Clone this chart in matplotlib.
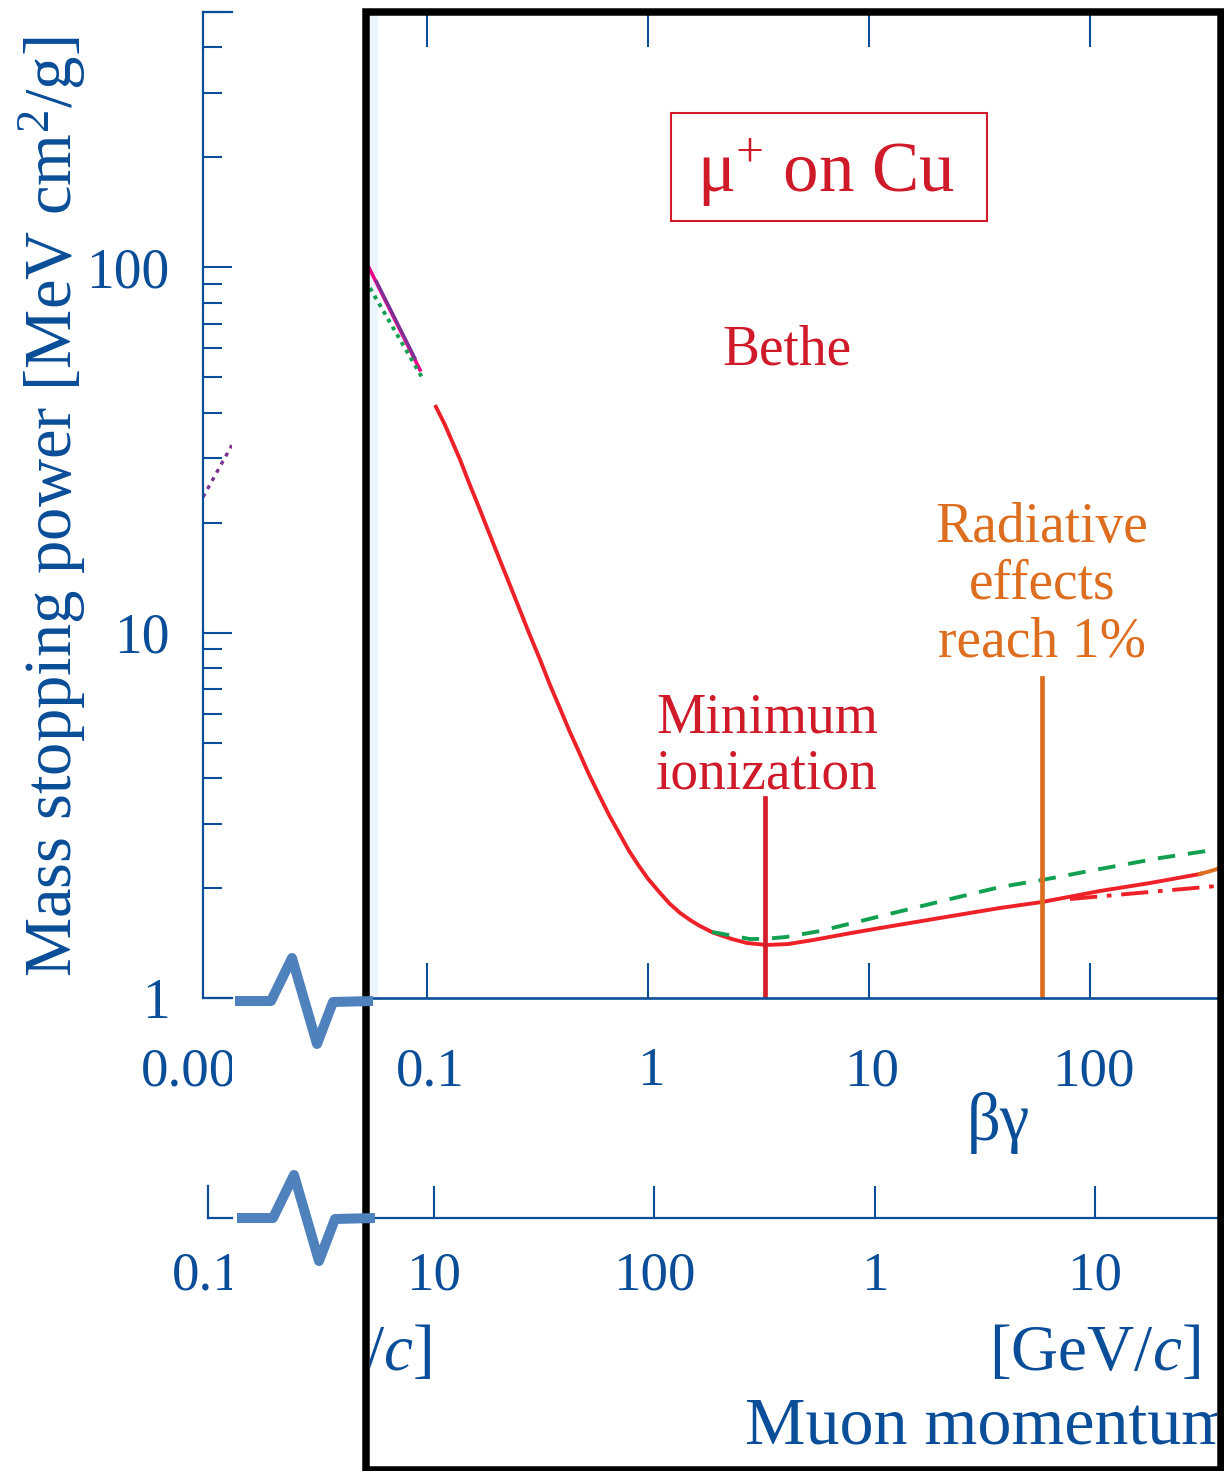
import numpy as np
import matplotlib
matplotlib.use("Agg")
import matplotlib.pyplot as plt
from matplotlib import transforms
from matplotlib.patches import Rectangle
from matplotlib.ticker import LogLocator, NullLocator

plt.rcParams['font.family'] = ['Liberation Serif', 'DejaVu Serif']
plt.rcParams['mathtext.fontset'] = 'custom'
plt.rcParams['mathtext.rm'] = 'Liberation Serif'
plt.rcParams['mathtext.it'] = 'Liberation Serif:italic'
plt.rcParams['mathtext.default'] = 'regular'

# ---- data ----
# Bethe curve, mu+ on Cu
bethe_bg = [0.1087, 0.12, 0.141, 0.155, 0.17, 0.19, 0.2137, 0.235, 0.26, 0.29, 0.3245,
            0.36, 0.4, 0.44, 0.4923, 0.54, 0.6, 0.67, 0.747, 0.82, 0.9, 1.0, 1.133,
            1.25, 1.396, 1.55, 1.7, 1.968, 2.4, 2.805, 3.45, 4.3, 5.58, 8.0, 11.2,
            23.3, 39.2, 60.6, 110.9, 186.8, 314.6, 324]
bethe_dedx = [42.0, 37.3, 29.8, 25.7, 22.4, 18.9, 15.8, 13.7, 11.75, 9.95, 8.45,
              7.2, 6.2, 5.4, 4.65, 4.1, 3.6, 3.15, 2.8, 2.53, 2.32, 2.12, 1.94,
              1.815, 1.71, 1.635, 1.58, 1.51, 1.45, 1.414, 1.397, 1.405, 1.441, 1.50, 1.554,
              1.674, 1.764, 1.831, 1.963, 2.064, 2.185, 2.199]
# radiative total (orange, end of curve)
rad_bg = [314.6, 350, 390]
rad_dedx = [2.185, 2.225, 2.27]
# without density effect (green dashed)
nodelta_bg = [1.948, 2.893, 3.4, 4.21, 6.00, 10.87, 23.3, 39.2, 60.6, 110.9, 207.5, 390]
nodelta_dedx = [1.516, 1.450, 1.452, 1.469, 1.525, 1.666, 1.866, 2.013, 2.104, 2.255, 2.417, 2.56]
# red dash-dot
dashdot_bg = [81.2, 376]
dashdot_dedx = [1.866, 2.026]
# low energy pieces
magenta_bg = [0.0548, 0.0930]
magenta_dedx = [99.4, 52.4]
purple_bg = [0.0592, 0.0882]
purple_dedx = [91.4, 56.5]
greendot_bg = [0.0552, 0.0946]
greendot_dedx = [87.8, 50.2]
left_bg = [0.001, 0.00135]
left_dedx = [23.5, 32.6]
# markers
min_ion_bg = 3.38
min_ion_top = 3.53
rad1_bg = 60.6
rad1_top = 7.52

bg_ticks = [0.1, 1, 10, 100]
bg_labels = ["0.1", "1", "10", "100"]
p_ticks = [0.01, 0.1, 1, 10]          # GeV/c
p_labels = ["10", "100", "1", "10"]
y_ticks = [1, 10, 100]
y_labels = ["1", "10", "100"]

BLUE = '#0a4d98'
RED = '#ed2127'
RED_TXT = '#cf1b29'
ORANGE = '#dd6e1f'
GREEN = '#10a050'
MAGENTA = '#ec008c'
PURPLE = '#7b3294'
BREAK = '#4f81bd'

W, H = 1224, 1471
fig = plt.figure(figsize=(W / 100, H / 100), dpi=100)


def add_ax(x0, y0, x1, y1):
    return fig.add_axes([x0 / W, 1 - y1 / H, (x1 - x0) / W, (y1 - y0) / H])


def bg_at(px):
    return 10 ** (-1 + (px - 427) / 221.0)


def p_at(px):
    return 10 ** (-2 + (px - 434) / 220.3)


Y_MAX = 10 ** ((998 - 12) / 365.3)

# background strip next to the frame
bk = add_ax(0, 0, W, H)
bk.set_xlim(0, W); bk.set_ylim(H, 0); bk.axis('off')
bk.add_patch(Rectangle((369, 16), 9, 982, color='#eef4fb', lw=0))

# ---- main panel ----
ax = add_ax(366, 12, 1220, 998)
ax.set_xscale('log'); ax.set_yscale('log')
ax.set_xlim(bg_at(366), bg_at(1220))
ax.set_ylim(1, Y_MAX)
ax.patch.set_alpha(0)
for s in ['left', 'right', 'top']:
    ax.spines[s].set_visible(False)
ax.spines['bottom'].set_color(BLUE)
ax.spines['bottom'].set_linewidth(1.9)
ax.set_xticks(bg_ticks)
ax.set_xticklabels([])
ax.xaxis.set_minor_locator(NullLocator())
ax.tick_params(axis='x', which='major', direction='in', length=25, width=1.5,
               colors=BLUE, top=True, bottom=True, labelbottom=False)
ax.yaxis.set_major_locator(NullLocator())
ax.yaxis.set_minor_locator(NullLocator())

ax.plot(bethe_bg, bethe_dedx, color=RED, lw=2.8, solid_capstyle='butt', solid_joinstyle='round')
ax.plot(rad_bg, rad_dedx, color=ORANGE, lw=2.8)
ax.plot(nodelta_bg, nodelta_dedx, color=GREEN, lw=2.8, dashes=(4.5, 3.3))
ax.plot(dashdot_bg, dashdot_dedx, color=RED, lw=2.8, dashes=(7, 2.5, 1.2, 2.5))
ax.plot(magenta_bg, magenta_dedx, color=MAGENTA, lw=2.6)
ax.plot(purple_bg, purple_dedx, color=PURPLE, lw=2.2)
ax.plot(greendot_bg, greendot_dedx, color=GREEN, lw=2.8, dashes=(1, 1.3))
ax.plot([min_ion_bg, min_ion_bg], [1, min_ion_top], color='#d41f2a', lw=3.4)
ax.plot([rad1_bg, rad1_bg], [1, rad1_top], color=ORANGE, lw=3.4)

# ---- left (low beta-gamma) panel ----
axl = add_ax(203, 12, 232, 998)
axl.set_xscale('log'); axl.set_yscale('log')
axl.set_xlim(0.001, 10 ** (-3 + 29 / 221.0))
axl.set_ylim(1, Y_MAX)
axl.patch.set_alpha(0)
axl.spines['right'].set_visible(False)
for s in ['left', 'top', 'bottom']:
    axl.spines[s].set_color(BLUE)
    axl.spines[s].set_linewidth(1.6)
axl.xaxis.set_major_locator(NullLocator())
axl.xaxis.set_minor_locator(NullLocator())
axl.set_yticks(y_ticks)
axl.set_yticklabels(y_labels)
axl.yaxis.set_minor_locator(LogLocator(base=10, subs=np.arange(2, 10)))
axl.tick_params(axis='y', which='major', direction='in', length=21, width=1.5,
                colors=BLUE, labelsize=40, pad=24)
axl.tick_params(axis='y', which='minor', direction='in', length=14, width=1.5, colors=BLUE)
axl.plot(left_bg, left_dedx, color=PURPLE, lw=2.4, dashes=(1.2, 1.6))

# ---- momentum axis ----
axm = add_ax(372, 1217, 1220, 1218)
axm.set_xscale('log')
axm.set_xlim(p_at(372), p_at(1220))
axm.patch.set_alpha(0)
for s in ['left', 'right', 'top']:
    axm.spines[s].set_visible(False)
axm.spines['bottom'].set_color(BLUE)
axm.spines['bottom'].set_linewidth(1.6)
axm.set_xticks(p_ticks)
axm.set_xticklabels([])
axm.xaxis.set_minor_locator(NullLocator())
axm.tick_params(axis='x', which='major', direction='in', length=23, width=1.5,
                colors=BLUE, labelbottom=False)
axm.set_yticks([])

axm2 = add_ax(208, 1186, 232, 1218)
axm2.patch.set_alpha(0)
for s in ['right', 'top']:
    axm2.spines[s].set_visible(False)
for s in ['left', 'bottom']:
    axm2.spines[s].set_color(BLUE)
    axm2.spines[s].set_linewidth(1.6)
axm2.set_xticks([]); axm2.set_yticks([])

# ---- overlay: frame, break marks, text ----
ov = add_ax(0, 0, W, H)
ov.set_xlim(0, W); ov.set_ylim(H, 0); ov.axis('off')
ov.patch.set_alpha(0)

ov.add_patch(Rectangle((365.5, 12), 1220.7 - 365.5, 1470.4 - 12, fill=False,
                       ec='black', lw=5.4, joinstyle='miter'))

for bx, by in [(235, 1001), (237, 1218)]:
    xs = np.array([0, 36, 57, 82, 98, 138]) + bx
    ys = np.array([0, 0, -43, 43, 1, 0]) + by
    ov.plot(xs, ys, color=BREAK, lw=7.2, solid_joinstyle='round', solid_capstyle='butt')

off = transforms.offset_copy(ax.transData, fig=fig, x=3, y=0, units='dots')
blend_bg = transforms.blended_transform_factory(off, ov.transData)
for v, lab in zip(bg_ticks, bg_labels):
    ov.text(v, 1085, lab, transform=blend_bg, ha='center', va='baseline',
            fontsize=39.5, color=BLUE)
blend_p = transforms.blended_transform_factory(axm.transData, ov.transData)
for v, lab in zip(p_ticks, p_labels):
    ov.text(v, 1290, lab, transform=blend_p, ha='center', va='baseline',
            fontsize=39.5, color=BLUE)

clip_left = Rectangle((0, 0), 232, H, transform=ov.transData)
t = ov.text(203, 1085, "0.001", ha='center', va='baseline', fontsize=39.5, color=BLUE,
            clip_on=True)
t.set_clip_path(clip_left)
t = ov.text(206, 1290, "0.1", ha='center', va='baseline', fontsize=39.5, color=BLUE,
            clip_on=True)
t.set_clip_path(clip_left)

clip_main = Rectangle((370, 0), 847, H, transform=ov.transData)
t = ov.text(432, 1370, r"[MeV/$\mathit{c}$]", ha='right', va='baseline', fontsize=47,
            color=BLUE, clip_on=True)
t.set_clip_path(clip_main)
ov.text(1200, 1370, r"[GeV/$\mathit{c}$]", ha='right', va='baseline', fontsize=47, color=BLUE)
t = ov.text(745, 1443, "Muon momentum", ha='left', va='baseline', fontsize=49, color=BLUE,
            clip_on=True)
t.set_clip_path(clip_main)
ov.text(967, 1140, "βγ", ha='left', va='baseline', fontsize=48, color=BLUE)

ov.text(52, 507, "Mass stopping power [MeV cm$^2$/g]", rotation=90, ha='center',
        va='center', fontsize=48, color=BLUE)

ov.add_patch(Rectangle((671, 113), 316, 108, fill=False, ec=RED_TXT, lw=1.5))
ov.text(826, 192, r"μ$^{+}$ on Cu", ha='center', va='baseline', fontsize=51, color=RED_TXT)
ov.text(787, 364, "Bethe", ha='center', va='baseline', fontsize=40, color=RED_TXT)
ov.text(767, 732, "Minimum", ha='center', va='baseline', fontsize=40, color=RED_TXT)
ov.text(767, 788, "ionization", ha='center', va='baseline', fontsize=40, color=RED_TXT)
ov.text(1042, 542, "Radiative", ha='center', va='baseline', fontsize=40, color=ORANGE)
ov.text(1042, 598, "effects", ha='center', va='baseline', fontsize=40, color=ORANGE)
ov.text(1042, 656, "reach 1%", ha='center', va='baseline', fontsize=40, color=ORANGE)

fig.savefig("out.png", dpi=100)
